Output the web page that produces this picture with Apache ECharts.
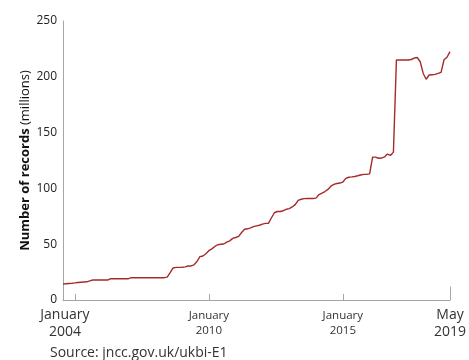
<!DOCTYPE html>
<html><head><meta charset="utf-8">
<script src="https://cdn.jsdelivr.net/npm/echarts@6/dist/echarts.min.js"></script>
<style>html,body{margin:0;padding:0;background:#fff}#c{width:469px;height:360px}</style>
</head><body><div id="c"></div>
<script>
const categories = ['2003-07','2003-08','2003-10','2003-11','2004-01','2004-03','2004-04','2004-06','2004-07','2004-09','2004-11','2004-12','2005-02','2005-03','2005-05','2005-07','2005-08','2005-10','2005-11','2006-01','2006-03','2006-04','2006-06','2006-07','2006-09','2006-11','2006-12','2007-02','2007-03','2007-05','2007-07','2007-08','2007-10','2007-11','2008-01','2008-03','2008-04','2008-06','2008-07','2008-09','2008-11','2008-12','2009-02','2009-03','2009-05','2009-07','2009-08','2009-10','2009-11','2010-01','2010-02','2010-04','2010-05','2010-06','2010-08','2010-09','2010-10','2010-12','2011-01','2011-02','2011-04','2011-05','2011-06','2011-08','2011-09','2011-10','2011-12','2012-01','2012-02','2012-04','2012-05','2012-06','2012-08','2012-09','2012-10','2012-12','2013-01','2013-02','2013-04','2013-05','2013-06','2013-08','2013-09','2013-10','2013-12','2014-01','2014-02','2014-04','2014-05','2014-06','2014-08','2014-09','2014-10','2014-12','2015-01','2015-02','2015-04','2015-05','2015-07','2015-08','2015-10','2015-11','2016-01','2016-02','2016-03','2016-05','2016-06','2016-08','2016-09','2016-11','2016-12','2017-02','2017-03','2017-04','2017-06','2017-07','2017-09','2017-10','2017-12','2018-01','2018-03','2018-04','2018-05','2018-07','2018-08','2018-10','2018-11','2019-01','2019-02','2019-04','2019-05'];
const records = [14.2,14.5,14.8,15.0,15.3,15.7,15.9,16.1,16.3,17.2,
17.9,17.9,17.9,17.9,17.9,17.9,19.1,19.1,19.1,19.1,
19.1,19.1,19.1,20.0,20.0,20.0,20.0,20.0,20.0,20.0,
20.0,20.0,20.0,20.0,20.0,20.5,24.5,28.7,29.2,29.2,
29.3,29.7,30.5,30.5,31.5,34.5,38.9,39.4,41.5,44.2,
45.8,48.0,49.5,49.9,50.2,51.8,53.0,55.2,56.0,57.0,
60.5,63.4,63.8,64.6,65.8,66.4,67.0,68.0,68.7,68.7,
73.5,78.2,79.3,79.3,80.0,81.3,81.9,83.4,85.5,89.3,
90.3,90.8,91.0,91.0,91.0,91.3,94.5,95.8,97.2,99.1,
102.0,103.6,104.4,104.8,105.7,109.0,110.0,110.3,110.7,111.3,
112.0,112.6,112.6,113.0,128.0,128.0,127.0,127.2,128.2,130.8,
129.5,132.5,215.0,215.0,215.0,215.0,215.0,215.5,216.8,217.3,
213.5,203.0,197.8,201.6,201.9,202.2,203.0,204.0,215.3,217.5,
222.5];
const tickCats = ['2004-01','2010-01','2015-01','2019-05'];
const tickMonth = ['January','January','January','May'];
const tickYear = ['2004','2010','2015','2019'];
const tickStyle = ['bigL','small','small','big'];
const yTicks = [0,50,100,150,200,250];

const chart = echarts.init(document.getElementById('c'), null, {renderer:'canvas'});
const FONT = '"Open Sans", "Noto Sans", sans-serif';
chart.setOption({
  animation:false,
  grid:{left:63, right:17, top:21, bottom:60, containLabel:false},
  xAxis:{
    type:'category', data:categories, boundaryGap:false,
    axisLine:{lineStyle:{color:'#a6a6a6', width:1}},
    axisTick:{show:true, inside:true, length:6, lineStyle:{color:'#a6a6a6'},
      interval:(idx)=>tickCats.indexOf(categories[idx])>=0},
    axisLabel:{
      interval:(idx)=>tickCats.indexOf(categories[idx])>=0,
      margin:7, color:'#333', fontFamily:FONT,
      formatter:(v)=>{
        const k = tickCats.indexOf(v);
        if(k<0) return '';
        const s = tickStyle[k];
        return '{'+s+'|'+tickMonth[k]+'}\n{'+s+'|'+tickYear[k]+'}';
      },
      rich:{
        big:{fontSize:14, lineHeight:17, color:'#333', fontFamily:FONT},
        bigL:{fontSize:14, lineHeight:17, color:'#333', fontFamily:FONT, padding:[0,20,0,0]},
        small:{fontSize:11.5, lineHeight:15, color:'#333', fontFamily:FONT, padding:[2,0,0,0]}
      }
    },
    splitLine:{show:false}
  },
  yAxis:{
    type:'value', min:yTicks[0], max:yTicks[yTicks.length-1], interval:50,
    axisLine:{show:true, lineStyle:{color:'#a6a6a6'}},
    axisTick:{show:false},
    splitLine:{show:false},
    axisLabel:{color:'#222', fontSize:12, fontFamily:FONT, margin:6},
    name:'{b|Number of records} {n|(millions)}',
    nameLocation:'middle', nameGap:31, nameRotate:90, nameMoveOverlap:false,
    nameTextStyle:{
      rich:{
        b:{fontSize:13, fontWeight:'bold', color:'#111', fontFamily:FONT},
        n:{fontSize:13, color:'#111', fontFamily:FONT}
      }
    }
  },
  graphic:[{type:'text', left:50, top:346, style:{text:'Source: jncc.gov.uk/ukbi-E1', fill:'#333', font:'14px "Open Sans", sans-serif'}}],
  series:[{
    type:'line', data:records, showSymbol:false, symbol:'none',
    lineStyle:{color:'#a52a2a', width:1.4},
    markLine:{silent:true, symbol:'none', label:{show:false},
      lineStyle:{color:'#a6a6a6', width:1, type:'solid'},
      data:[[{xAxis:tickCats[3], yAxis:0},{xAxis:tickCats[3], yAxis:12}]]}
  }]
});
</script></body></html>
